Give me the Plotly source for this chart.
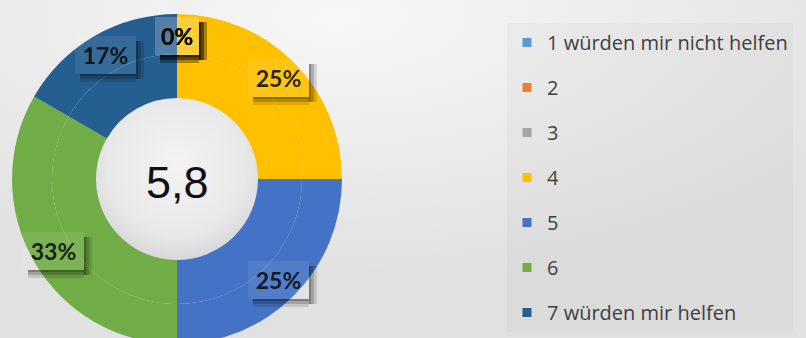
import math
import base64
import plotly.graph_objects as go

# Survey answers on a 1..7 scale
categories = ["1 würden mir nicht helfen", "2", "3", "4", "5", "6", "7 würden mir helfen"]
counts = [0, 0, 0, 3, 3, 4, 2]
colors = ["#5B9BD5", "#ED7D31", "#A5A5A5", "#FFC000", "#4472C4", "#70AD47", "#255E91"]
center_label = "5,8"

W, H = 806, 346
CX, CY = 177, 179          # donut centre in px (from top-left)
R_OUT, R_MID, R_IN = 165, 125, 81
R_LABEL = 143

def dom_x(r):
    return [(CX - r) / W, (CX + r) / W]

def dom_y(r):
    return [(H - CY - r) / H, (H - CY + r) / H]

fig = go.Figure()

# two concentric rings carrying the same series
for r_outer, r_inner in [(R_OUT, R_MID), (R_MID, R_IN)]:
    fig.add_trace(go.Pie(
        labels=categories, values=counts,
        marker=dict(colors=colors, line=dict(width=0)),
        hole=r_inner / r_outer, sort=False, direction="clockwise", rotation=0,
        textinfo="none", hoverinfo="label+percent", showlegend=False,
        domain=dict(x=dom_x(r_outer), y=dom_y(r_outer)),
    ))

# legend entries with a fixed vertical gap between them
for name, col in zip(categories, colors):
    fig.add_trace(go.Scatter(
        x=[None], y=[None], mode="markers", name=name, legendgroup=name,
        marker=dict(symbol="square", size=9, color=col),
    ))

# percentage labels with drop shadows
total = sum(counts)
annotations = []
cum = 0
base = dict(xref="paper", yref="paper", showarrow=False,
            xanchor="center", yanchor="middle", borderpad=0, borderwidth=0)
for v, col in zip(counts, colors):
    theta = math.radians((cum + v / 2) / total * 360)
    cum += v
    pct = f"{round(v / total * 100)}%"
    px = CX + R_LABEL * math.sin(theta)
    py = CY - R_LABEL * math.cos(theta)
    ax, ay = px / W, 1 - py / H
    bw = 17 * len(pct) + 10
    bh = 38
    off = 5
    for s, a in [(8, 0.12), (5, 0.18), (2, 0.22)]:
        # right edge of the shadow
        annotations.append(dict(base, x=ax, y=ay, text=" ",
            width=s, height=bh, bgcolor=f"rgba(0,0,0,{a})",
            xshift=bw / 2 + s / 2, yshift=-off))
        # bottom edge of the shadow
        annotations.append(dict(base, x=ax, y=ay, text=" ",
            width=bw - off, height=s, bgcolor=f"rgba(0,0,0,{a})",
            xshift=off / 2, yshift=-(bh / 2 + s / 2)))
    annotations.append(dict(base, x=ax, y=ay, text=f"<b>{pct}</b>",
        width=bw, height=bh, bgcolor="rgba(255,255,255,0.08)",
        font=dict(family="Lato", size=23, color="rgba(10,10,10,0.88)")))

annotations.append(dict(base, x=CX / W, y=1 - CY / H, text=center_label, yshift=-3,
    font=dict(family="Liberation Sans", size=45, color="#111111")))

# soft light spot behind the chart, plus shading inside the donut hole
svg = (
    f'<svg xmlns="http://www.w3.org/2000/svg" width="{W}" height="{H}">'
    '<defs><radialGradient id="g" cx="0.42" cy="0.05" r="0.75">'
    '<stop offset="0" stop-color="#f7f7f7"/><stop offset="1" stop-color="#e1e1e1"/>'
    '</radialGradient>'
    '<radialGradient id="h" cx="0.5" cy="0.42" r="0.6">'
    '<stop offset="0" stop-color="#f3f3f3"/><stop offset="0.7" stop-color="#e8e8e8"/>'
    '<stop offset="1" stop-color="#d4d4d4"/></radialGradient></defs>'
    f'<rect width="{W}" height="{H}" fill="url(#g)"/>'
    f'<circle cx="{CX}" cy="{CY}" r="{R_IN + 2}" fill="url(#h)"/></svg>'
)
bg_src = "data:image/svg+xml;base64," + base64.b64encode(svg.encode()).decode()

fig.update_layout(
    width=W, height=H,
    margin=dict(l=0, r=0, t=0, b=0),
    paper_bgcolor="#e9e9e9", plot_bgcolor="rgba(0,0,0,0)",
    xaxis=dict(visible=False), yaxis=dict(visible=False),
    annotations=annotations,
    images=[dict(source=bg_src, xref="paper", yref="paper", x=0, y=1,
                 sizex=1, sizey=1, xanchor="left", yanchor="top",
                 sizing="stretch", layer="below")],
    legend=dict(
        x=507 / W, y=1 - 23 / H, xanchor="left", yanchor="top",
        font=dict(family="Open Sans", size=20, color="#404040"),
        tracegroupgap=16, bgcolor="rgba(0,0,0,0.025)",
    ),
)

fig.write_html("out.html")
